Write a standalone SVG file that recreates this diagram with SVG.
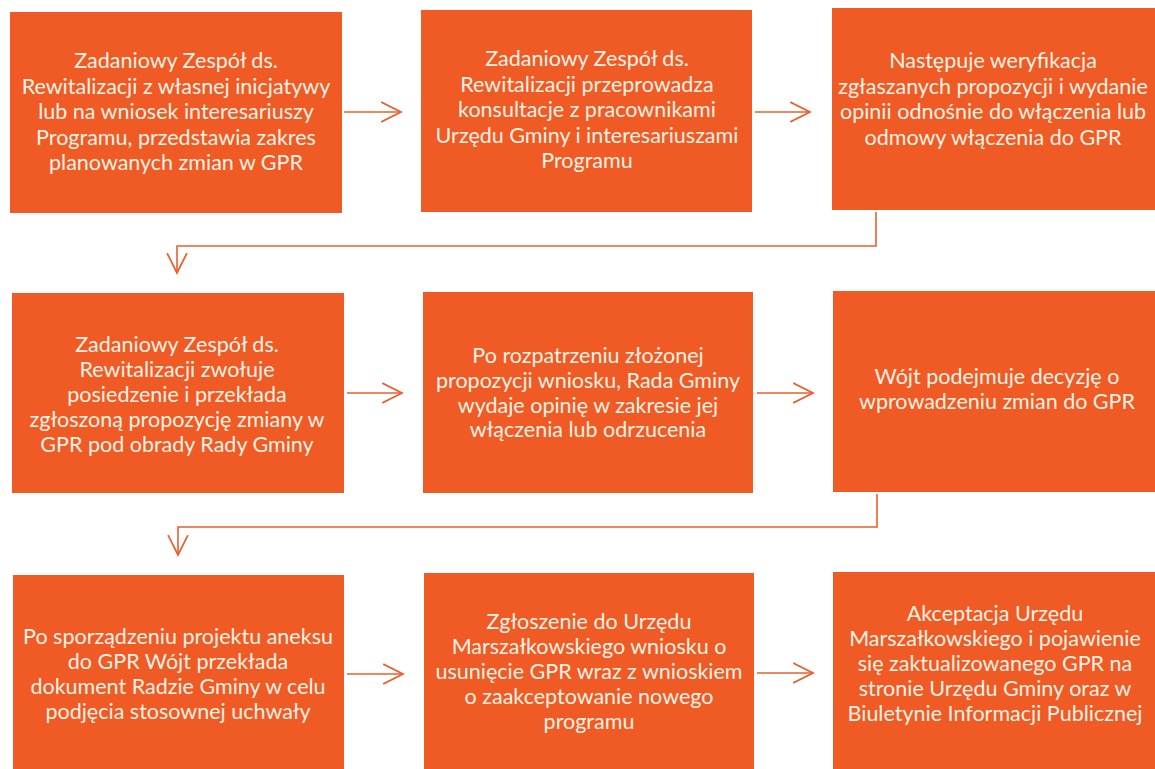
<svg xmlns="http://www.w3.org/2000/svg" width="1155" height="769" viewBox="0 0 1155 769">
<style>
.box{fill:#F05A24;}
.t{font-family:Lato,"Liberation Sans",Arial,sans-serif;font-size:21.5px;fill:#FDF2E4;text-anchor:middle;}
.c{fill:none;stroke:#E8602C;stroke-width:1.6;}
</style>
<defs>
<marker id="ah" markerUnits="userSpaceOnUse" markerWidth="22" markerHeight="22" refX="18" refY="9" orient="auto" viewBox="0 0 20 18">
<path d="M0,0 L18,9 L0,18" fill="none" stroke="#E8602C" stroke-width="1.6"/>
</marker>
</defs>
<rect width="1155" height="769" fill="#FFFFFF"/>
<g id="connectors">
<path class="c" d="M344,112 H401" marker-end="url(#ah)"/>
<path class="c" d="M755,112 H810" marker-end="url(#ah)"/>
<path class="c" d="M347,393 H402" marker-end="url(#ah)"/>
<path class="c" d="M757,393 H813" marker-end="url(#ah)"/>
<path class="c" d="M347,674 H403" marker-end="url(#ah)"/>
<path class="c" d="M757,673 H813" marker-end="url(#ah)"/>
<path class="c" d="M876,212 V246 H177 V273" marker-end="url(#ah)"/>
<path class="c" d="M877,494 V527 H178 V555" marker-end="url(#ah)"/>
</g>
<g id="n1">
<rect class="box" x="10" y="12" width="332" height="201"/>
<text class="t"><tspan x="176" y="68">Zadaniowy Zespół ds.</tspan><tspan x="176" y="93.5">Rewitalizacji z własnej inicjatywy</tspan><tspan x="176" y="119">lub na wniosek interesariuszy</tspan><tspan x="176" y="144.5">Programu, przedstawia zakres</tspan><tspan x="176" y="170">planowanych zmian w GPR</tspan></text>
</g>
<g id="n2">
<rect class="box" x="421" y="10" width="331" height="202"/>
<text class="t"><tspan x="587" y="66">Zadaniowy Zespół ds.</tspan><tspan x="587" y="91.5">Rewitalizacji przeprowadza</tspan><tspan x="587" y="117">konsultacje z pracownikami</tspan><tspan x="587" y="142.5">Urzędu Gminy i interesariuszami</tspan><tspan x="587" y="168">Programu</tspan></text>
</g>
<g id="n3">
<rect class="box" x="832" y="8" width="330" height="202"/>
<text class="t"><tspan x="993" y="68">Następuje weryfikacja</tspan><tspan x="993" y="93.5">zgłaszanych propozycji i wydanie</tspan><tspan x="993" y="119">opinii odnośnie do włączenia lub</tspan><tspan x="993" y="144.5">odmowy włączenia do GPR</tspan></text>
</g>
<g id="n4">
<rect class="box" x="12" y="293" width="332" height="200"/>
<text class="t"><tspan x="177" y="352">Zadaniowy Zespół ds.</tspan><tspan x="177" y="377">Rewitalizacji zwołuje</tspan><tspan x="177" y="402">posiedzenie i przekłada</tspan><tspan x="177" y="427">zgłoszoną propozycję zmiany w</tspan><tspan x="177" y="452">GPR pod obrady Rady Gminy</tspan></text>
</g>
<g id="n5">
<rect class="box" x="423" y="292" width="330" height="201"/>
<text class="t"><tspan x="588" y="363">Po rozpatrzeniu złożonej</tspan><tspan x="588" y="388">propozycji wniosku, Rada Gminy</tspan><tspan x="588" y="413">wydaje opinię w zakresie jej</tspan><tspan x="588" y="437">włączenia lub odrzucenia</tspan></text>
</g>
<g id="n6">
<rect class="box" x="833" y="291" width="330" height="201"/>
<text class="t"><tspan x="997" y="384">Wójt podejmuje decyzję o</tspan><tspan x="997" y="409">wprowadzeniu zmian do GPR</tspan></text>
</g>
<g id="n7">
<rect class="box" x="13" y="575" width="331" height="210"/>
<text class="t"><tspan x="178" y="644">Po sporządzeniu projektu aneksu</tspan><tspan x="178" y="669">do GPR Wójt przekłada</tspan><tspan x="178" y="694">dokument Radzie Gminy w celu</tspan><tspan x="178" y="719">podjęcia stosownej uchwały</tspan></text>
</g>
<g id="n8">
<rect class="box" x="424" y="573" width="330" height="210"/>
<text class="t"><tspan x="589" y="629">Zgłoszenie do Urzędu</tspan><tspan x="589" y="654">Marszałkowskiego wniosku o</tspan><tspan x="589" y="679">usunięcie GPR wraz z wnioskiem</tspan><tspan x="589" y="704">o zaakceptowanie nowego</tspan><tspan x="589" y="729">programu</tspan></text>
</g>
<g id="n9">
<rect class="box" x="833" y="572" width="330" height="210"/>
<text class="t"><tspan x="995" y="621">Akceptacja Urzędu</tspan><tspan x="995" y="646">Marszałkowskiego i pojawienie</tspan><tspan x="995" y="671">się zaktualizowanego GPR na</tspan><tspan x="995" y="696">stronie Urzędu Gminy oraz w</tspan><tspan x="995" y="721">Biuletynie Informacji Publicznej</tspan></text>
</g>
</svg>
